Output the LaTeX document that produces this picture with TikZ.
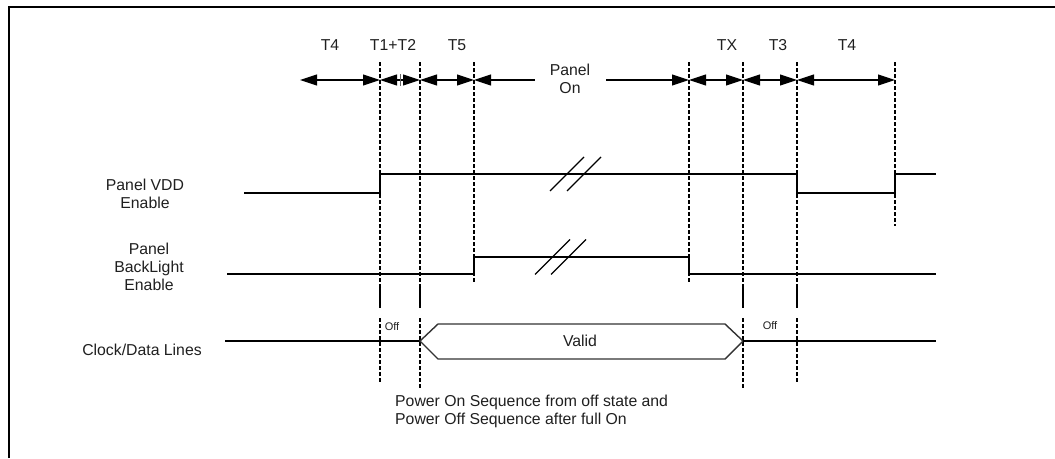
\documentclass[tikz,border=0pt]{standalone}
\usepackage{fontspec}
\setmainfont{Liberation Sans}
\usetikzlibrary{arrows.meta}
\begin{document}
\begin{tikzpicture}[x=1pt,y=-1pt,
  lbl/.style={font=\fontsize{15.8}{18}\selectfont, text=black!88, inner sep=0pt, align=center},
  smalllbl/.style={font=\fontsize{11}{13}\selectfont, text=black!88, inner sep=0pt},
  sig/.style={line width=1.4pt, line join=miter},
  guide/.style={line width=1.1pt, dash pattern=on 4pt off 2pt},
  solidguide/.style={line width=1.2pt},
  dimarrow/.style={line width=1.1pt, {Triangle[length=17pt,width=11pt]}-{Triangle[length=17pt,width=11pt]}},
  larrow/.style={line width=1.1pt, {Triangle[length=17pt,width=11pt]}-},
  rarrow/.style={line width=1.1pt, -{Triangle[length=17pt,width=11pt]}},
  brk/.style={line width=1.1pt},
  frame/.style={line width=2pt},
]
\useasboundingbox (0,0) rectangle (1055,458);
% frame
\draw[frame] (9,458) -- (9,7) -- (1055,7);

% guide coordinates
\coordinate (t1) at (380,62); \coordinate (t2) at (420,62); \coordinate (t3) at (474,62);
\coordinate (t4) at (689,62); \coordinate (t5) at (743,62); \coordinate (t6) at (797,62);
\coordinate (t7) at (895,62);

% vertical guides
\draw[guide] (t1) -- (380,285); \draw[solidguide] (380,285) -- (380,308); \draw[guide] (380,318) -- (380,383);
\draw[guide] (t2) -- (420,285); \draw[solidguide] (420,285) -- (420,308); \draw[guide] (420,318) -- (420,388);
\draw[guide] (t3) -- (474,282);
\draw[guide] (t4) -- (689,282);
\draw[guide] (t5) -- (743,287); \draw[solidguide] (743,287) -- (743,308); \draw[guide] (743,318) -- (743,389);
\draw[guide] (t6) -- (797,287); \draw[solidguide] (797,287) -- (797,308); \draw[guide] (797,318) -- (797,382);
\draw[guide] (t7) -- (895,226);

% dimension arrows
\coordinate (a0) at (300,80); \coordinate (a1) at (380,80); \coordinate (a12) at (400,80);
\coordinate (a2) at (420,80); \coordinate (a3) at (474,80); \coordinate (a4) at (689,80);
\coordinate (a5) at (743,80); \coordinate (a6) at (797,80); \coordinate (a7) at (895,80);
\coordinate (pl) at (535,80); \coordinate (pr) at (606,80);
\draw[dimarrow] (a0) -- (a1);
\draw[dimarrow] (a1) -- (a2);
\draw[line width=0.6pt, black!60] (400,74) -- (400,86);
\draw[dimarrow] (a2) -- (a3);
\draw[larrow] (a3) -- (pl);
\draw[rarrow] (pr) -- (a4);
\draw[dimarrow] (a4) -- (a5);
\draw[dimarrow] (a5) -- (a6);
\draw[dimarrow] (a6) -- (a7);

% labels top
\node[lbl] (lT4a) at (330,45) {T4};
\node[lbl] (lT12) at (393,45) {T1+T2};
\node[lbl] (lT5) at (457,45) {T5};
\node[lbl] (lpon) at (570,79) {Panel\\On};
\node[lbl] (lTX) at (727,45) {TX};
\node[lbl] (lT3) at (778,45) {T3};
\node[lbl] (lT4b) at (847,45) {T4};

% signal labels
\node[lbl] (lvdd) at (145,194) {Panel VDD\\Enable};
\node[lbl] (lbl) at (149,267) {Panel\\BackLight\\Enable};
\node[lbl] (lclk) at (142,350) {Clock/Data Lines};

% VDD
\draw[sig] (244,193) -- (380,193) -- (380,174) -- (797,174) -- (797,193) -- (895,193) -- (895,174) -- (936,174);
\draw[brk] (550,191) -- (584,157);
\draw[brk] (567,191) -- (601,157);

% Backlight
\draw[sig] (227,274) -- (474,274) -- (474,257) -- (689,257) -- (689,274) -- (936,274);
\draw[brk] (535,274.5) -- (570,239.5);
\draw[brk] (551,274.5) -- (586,239.5);

% Clock / data
\draw[sig] (225,341) -- (420,341);
\draw[sig, black!80] (420,341) -- (438,324) -- (725,324) -- (743,341) -- (725,359) -- (438,359) -- cycle;
\draw[sig] (743,341) -- (936,341);
\node[lbl] (lvalid) at (580,341) {Valid};
\node[smalllbl] (loff1) at (392,327) {Off};
\node[smalllbl] (loff2) at (770,326) {Off};

% caption
\node[lbl, anchor=west, align=left] (cap) at (395,411) {Power On Sequence from off state and\\Power Off Sequence after full On};
\end{tikzpicture}
\end{document}
